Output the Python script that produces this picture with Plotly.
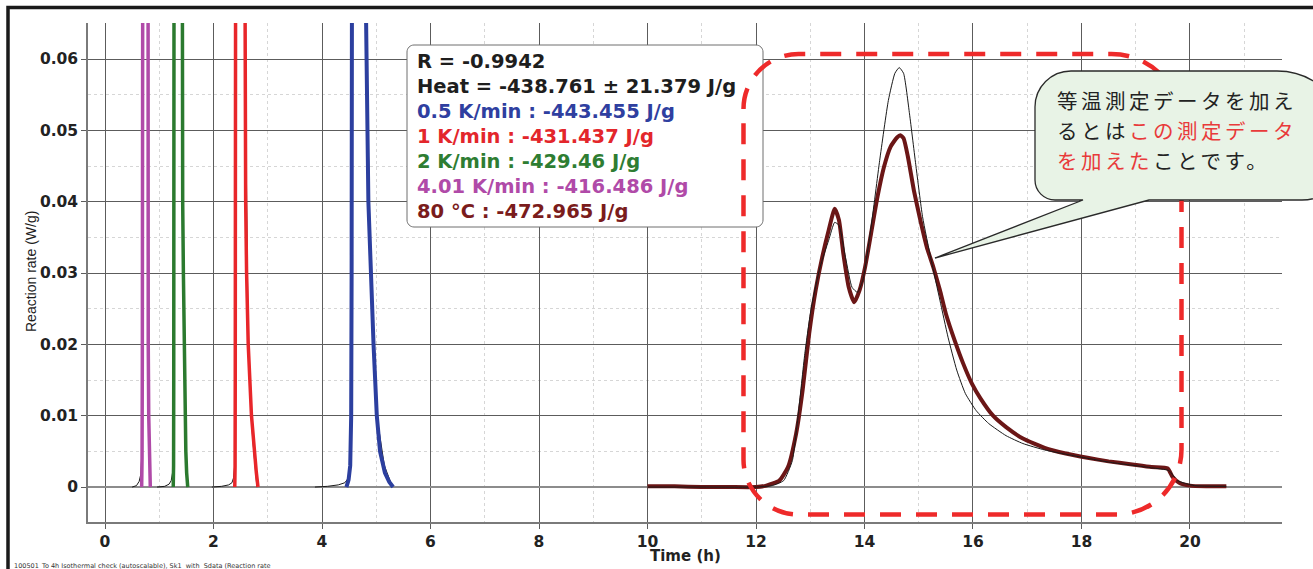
import plotly.graph_objects as go

# ---------------- data (time in h, reaction rate in W/g) ----------------
# 4.01 K/min measurement
t_401 = [0.676, 0.683, 0.688, 0.692, 0.695, 0.74, 0.780, 0.788, 0.797, 0.806, 0.815, 0.824, 0.835]
r_401 = [0.000, 0.004, 0.018, 0.045, 0.070, 0.950, 0.070, 0.040, 0.020, 0.010, 0.005, 0.002, 0.000]
# 4.01 K/min model
tm_401 = [0.50, 0.58, 0.63, 0.66, 0.675, 0.685, 0.692, 0.74, 0.782, 0.80, 0.815, 0.83]
rm_401 = [0.000, 0.0002, 0.0008, 0.0018, 0.004, 0.015, 0.070, 0.900, 0.070, 0.025, 0.008, 0.000]

# 2 K/min measurement
t_2 = [1.258, 1.264, 1.267, 1.270, 1.272, 1.34, 1.413, 1.432, 1.445, 1.457, 1.475, 1.490, 1.505, 1.525]
r_2 = [0.000, 0.003, 0.015, 0.040, 0.070, 0.500, 0.070, 0.040, 0.030, 0.020, 0.010, 0.005, 0.002, 0.000]
tm_2 = [0.96, 1.10, 1.18, 1.22, 1.245, 1.258, 1.266, 1.272, 1.34, 1.41, 1.45, 1.48, 1.52]
rm_2 = [0.000, 0.0001, 0.0004, 0.0009, 0.002, 0.005, 0.020, 0.070, 0.480, 0.070, 0.025, 0.008, 0.000]

# 1 K/min measurement
t_1 = [2.392, 2.398, 2.401, 2.404, 2.407, 2.49, 2.570, 2.593, 2.610, 2.640, 2.700, 2.750, 2.790, 2.820]
r_1 = [0.000, 0.003, 0.015, 0.040, 0.070, 0.300, 0.070, 0.040, 0.030, 0.020, 0.010, 0.005, 0.002, 0.000]
tm_1 = [1.97, 2.15, 2.28, 2.34, 2.37, 2.39, 2.40, 2.407, 2.49, 2.57, 2.64, 2.72, 2.80]
rm_1 = [0.000, 0.0001, 0.0003, 0.0006, 0.0013, 0.003, 0.015, 0.070, 0.290, 0.070, 0.020, 0.007, 0.000]

# 0.5 K/min measurement
t_05 = [4.45, 4.49, 4.52, 4.538, 4.546, 4.552, 4.68, 4.805, 4.855, 4.900, 4.950, 5.010, 5.070, 5.160, 5.240, 5.310]
r_05 = [0.000, 0.001, 0.003, 0.010, 0.030, 0.070, 0.250, 0.070, 0.040, 0.030, 0.020, 0.010, 0.005, 0.002, 0.0007, 0.000]
tm_05 = [3.87, 4.10, 4.30, 4.42, 4.48, 4.52, 4.54, 4.552, 4.68, 4.80, 4.90, 5.01, 5.15, 5.30]
rm_05 = [0.000, 0.0001, 0.0003, 0.0006, 0.0012, 0.003, 0.012, 0.070, 0.240, 0.070, 0.029, 0.010, 0.003, 0.000]

# 80 °C isothermal measurement
t_80 = [10.0, 10.5, 11.0, 11.5, 12.0, 12.19, 12.43, 12.59, 12.74, 12.86, 12.98, 13.10, 13.22, 13.34,
        13.45, 13.53, 13.61, 13.71, 13.81, 13.91, 14.01, 14.12, 14.24, 14.36, 14.48, 14.60, 14.66,
        14.72, 14.80, 14.91, 15.03, 15.15, 15.27, 15.39, 15.50, 15.66, 15.82, 15.98, 16.14, 16.37,
        16.61, 16.92, 17.32, 17.71, 18.11, 18.50, 18.90, 19.29, 19.59, 19.68, 19.80, 20.0, 20.3, 20.67]
r_80 = [0.0001, 0.0001, 0.0000, 0.0000, 0.0000, 0.0002, 0.0009, 0.0028, 0.0075, 0.0136, 0.0215,
        0.0276, 0.0322, 0.0360, 0.0390, 0.0374, 0.0327, 0.0280, 0.0259, 0.0276, 0.0308, 0.0355,
        0.0407, 0.0449, 0.0477, 0.0490, 0.0493, 0.0489, 0.0463, 0.0416, 0.0374, 0.0336, 0.0308,
        0.0276, 0.0243, 0.0206, 0.0173, 0.0145, 0.0124, 0.0100, 0.0084, 0.0068, 0.0055, 0.0047,
        0.0041, 0.0036, 0.0032, 0.0028, 0.0026, 0.0014, 0.0006, 0.0002, 0.0001, 0.0001]
# 80 °C model
tm_80 = [10.0, 11.0, 12.0, 12.3, 12.51, 12.67, 12.78, 12.90, 13.02, 13.18, 13.34, 13.45, 13.53,
         13.65, 13.77, 13.87, 13.97, 14.12, 14.28, 14.44, 14.56, 14.64, 14.72, 14.83, 14.95, 15.07,
         15.23, 15.39, 15.54, 15.70, 15.86, 16.06, 16.29, 16.61, 16.92, 17.32, 17.71, 18.50, 19.29,
         19.61, 19.77, 20.08, 20.67]
rm_80 = [0.0, 0.0, 0.0, 0.0002, 0.0009, 0.0037, 0.0103, 0.0187, 0.0252, 0.0308, 0.0346, 0.0371,
         0.0367, 0.0322, 0.0280, 0.0273, 0.0290, 0.0364, 0.0458, 0.0542, 0.0580, 0.0588, 0.0580,
         0.0523, 0.0449, 0.0379, 0.0318, 0.0262, 0.0210, 0.0164, 0.0131, 0.0107, 0.0089, 0.0072,
         0.0061, 0.0052, 0.0046, 0.0035, 0.0027, 0.0023, 0.0009, 0.0002, 0.0001]

info_lines = [
    ("R = -0.9942", "#1e1e1e"),
    ("Heat = -438.761 ± 21.379 J/g", "#1e1e1e"),
    ("0.5 K/min : -443.455 J/g", "#2f3fa0"),
    ("1 K/min : -431.437 J/g", "#e3262b"),
    ("2 K/min : -429.46 J/g", "#2e7d32"),
    ("4.01 K/min : -416.486 J/g", "#b04aa8"),
    ("80 °C : -472.965 J/g", "#7a1c1c"),
]
# callout text: (black part, red part, black part) per line
callout_parts = [
    ("等温測定データを加え", "", ""),
    ("るとは", "この測定データ", ""),
    ("", "を加えた", "ことです。"),
]
x_ticks = [0, 2, 4, 6, 8, 10, 12, 14, 16, 18, 20]
y_ticks = [0, 0.01, 0.02, 0.03, 0.04, 0.05, 0.06]

# ---------------- layout geometry ----------------
W, H = 1313, 569
L, R, T, B = 88, 1282, 23, 522


def px(x):
    return (x - L) / (R - L)


def py(y):
    return (B - y) / (B - T)


def P(x, y):
    return f"{px(x):.5f},{py(y):.5f}"


K = 0.5523


def rrect(x0, y0, x1, y1, rtl, rtr, rbr, rbl, bottom_insert=None):
    s = f"M {P(x0, y0 + rtl)} "
    s += f"C {P(x0, y0 + rtl * (1 - K))} {P(x0 + rtl * (1 - K), y0)} {P(x0 + rtl, y0)} "
    s += f"L {P(x1 - rtr, y0)} "
    s += f"C {P(x1 - rtr * (1 - K), y0)} {P(x1, y0 + rtr * (1 - K))} {P(x1, y0 + rtr)} "
    s += f"L {P(x1, y1 - rbr)} "
    s += f"C {P(x1, y1 - rbr * (1 - K))} {P(x1 - rbr * (1 - K), y1)} {P(x1 - rbr, y1)} "
    if bottom_insert:
        for (bx, by) in bottom_insert:
            s += f"L {P(bx, by)} "
    s += f"L {P(x0 + rbl, y1)} "
    s += f"C {P(x0 + rbl * (1 - K), y1)} {P(x0, y1 - rbl * (1 - K))} {P(x0, y1 - rbl)} Z"
    return s


fig = go.Figure()

thin = dict(color="#1a1a1a", width=1)
for tx, ry in [(tm_401, rm_401), (tm_2, rm_2), (tm_1, rm_1), (tm_05, rm_05)]:
    fig.add_trace(go.Scatter(x=tx, y=ry, mode="lines", line=thin, showlegend=False, hoverinfo="skip"))

fig.add_trace(go.Scatter(x=t_401, y=r_401, mode="lines", line=dict(color="#b04aa8", width=3.5), showlegend=False))
fig.add_trace(go.Scatter(x=t_2, y=r_2, mode="lines", line=dict(color="#2b7a2f", width=3.5), showlegend=False))
fig.add_trace(go.Scatter(x=t_1, y=r_1, mode="lines", line=dict(color="#e8262a", width=3.5), showlegend=False))
fig.add_trace(go.Scatter(x=t_05, y=r_05, mode="lines", line=dict(color="#2c3f9f", width=4), showlegend=False))
fig.add_trace(go.Scatter(x=t_80, y=r_80, mode="lines",
                         line=dict(color="#6b1616", width=4, shape="spline", smoothing=0.5), showlegend=False))
fig.add_trace(go.Scatter(x=tm_80, y=rm_80, mode="lines",
                         line=dict(color="#1a1a1a", width=1, shape="spline", smoothing=0.5), showlegend=False))

tickfont = dict(family="DejaVu Sans", size=15.5, color="#222222", weight="bold")
fig.update_xaxes(
    range=[-0.3134, 21.696], tickvals=x_ticks, ticktext=[str(v) for v in x_ticks],
    showgrid=True, gridcolor="#5c5c5c", gridwidth=1,
    minor=dict(dtick=1, tick0=0, showgrid=True, gridcolor="#d6d6d6", griddash="dot", gridwidth=1),
    zeroline=False, showline=True, linecolor="#7a7a7a", linewidth=1.5,
    ticks="outside", ticklen=5, tickcolor="#5c5c5c", tickfont=tickfont,
)
fig.update_yaxes(
    range=[-0.0049, 0.06505], tickvals=y_ticks, ticktext=["0", "0.01", "0.02", "0.03", "0.04", "0.05", "0.06"],
    showgrid=True, gridcolor="#5c5c5c", gridwidth=1,
    minor=dict(dtick=0.005, tick0=0, showgrid=True, gridcolor="#d6d6d6", griddash="dot", gridwidth=1),
    zeroline=True, zerolinecolor="#8c8c8c", zerolinewidth=2,
    showline=True, linecolor="#7a7a7a", linewidth=1.5,
    ticks="outside", ticklen=5, tickcolor="#5c5c5c", tickfont=tickfont,
)

shapes = []
# outer frame (top and left)
shapes.append(dict(type="path", xref="paper", yref="paper",
                   path=f"M {P(8, 575)} L {P(8, 7.5)} L {P(1320, 7.5)}",
                   line=dict(color="#1a1a1a", width=3.5), layer="above"))
# info box
shapes.append(dict(type="path", xref="paper", yref="paper",
                   path=rrect(407, 45, 763, 227, 7, 7, 7, 7),
                   fillcolor="white", line=dict(color="#6e6e6e", width=1), layer="above"))
# red dashed region
shapes.append(dict(type="path", xref="paper", yref="paper",
                   path=rrect(743.5, 54, 1181.5, 514.5, 55, 70, 65, 55),
                   fillcolor="rgba(0,0,0,0)", line=dict(color="#ee2a2a", width=4.5, dash="21px,15px"),
                   layer="above"))
# callout bubble
shapes.append(dict(type="path", xref="paper", yref="paper",
                   path=rrect(1035, 71, 1347, 200, 36, 70, 45, 20,
                              bottom_insert=[(1149, 200), (935, 258), (1083, 200)]),
                   fillcolor="#e8f3e6", line=dict(color="#2a2a2a", width=1.3), layer="above"))

annotations = []
row_y = [61.7, 86.7, 111.7, 136.7, 161.7, 186.7, 211.7]
for (txt, col), yy in zip(info_lines, row_y):
    annotations.append(dict(x=px(415), y=py(yy), xref="paper", yref="paper", text=txt, showarrow=False,
                            xanchor="left", yanchor="middle",
                            font=dict(family="DejaVu Sans", size=19.5, color=col, weight="bold")))

SP = "letter-spacing:3.5px"
for (a, b, c), yy in zip(callout_parts, [100, 130, 160]):
    txt = ""
    if a:
        txt += f"<span style='{SP}'>{a}</span>"
    if b:
        txt += f"<span style='color:#e83a3a;{SP}'>{b}</span>"
    if c:
        txt += f"<span style='{SP}'>{c}</span>"
    annotations.append(dict(x=px(1055), y=py(yy), xref="paper", yref="paper", text=txt,
                            showarrow=False, xanchor="left", yanchor="middle", align="left",
                            font=dict(family="Noto Sans CJK JP", size=20.5, color="#222222")))
# axis titles
annotations.append(dict(x=px(31), y=py(272), xref="paper", yref="paper", text="Reaction rate (W/g)",
                        textangle=-90, showarrow=False, xanchor="center", yanchor="middle",
                        font=dict(family="Liberation Sans", size=14, color="#1e1e1e")))
annotations.append(dict(x=px(685), y=py(556), xref="paper", yref="paper", text="Time (h)",
                        showarrow=False, xanchor="center", yanchor="middle",
                        font=dict(family="DejaVu Sans", size=15, color="#222222", weight="bold")))
annotations.append(dict(x=px(12), y=py(566), xref="paper", yref="paper",
                        text="100501_To 4h Isothermal check (autoscalable), Sk1  with  Sdata (Reaction rate",
                        showarrow=False, xanchor="left", yanchor="middle",
                        font=dict(family="DejaVu Sans", size=6.5, color="#333333")))

fig.update_layout(
    width=W, height=H, autosize=False,
    margin=dict(l=L, r=W - R, t=T, b=H - B, pad=0),
    paper_bgcolor="white", plot_bgcolor="white",
    shapes=shapes, annotations=annotations, showlegend=False,
    hovermode=False,
)

fig.write_html("out.html", config={"displayModeBar": False})
